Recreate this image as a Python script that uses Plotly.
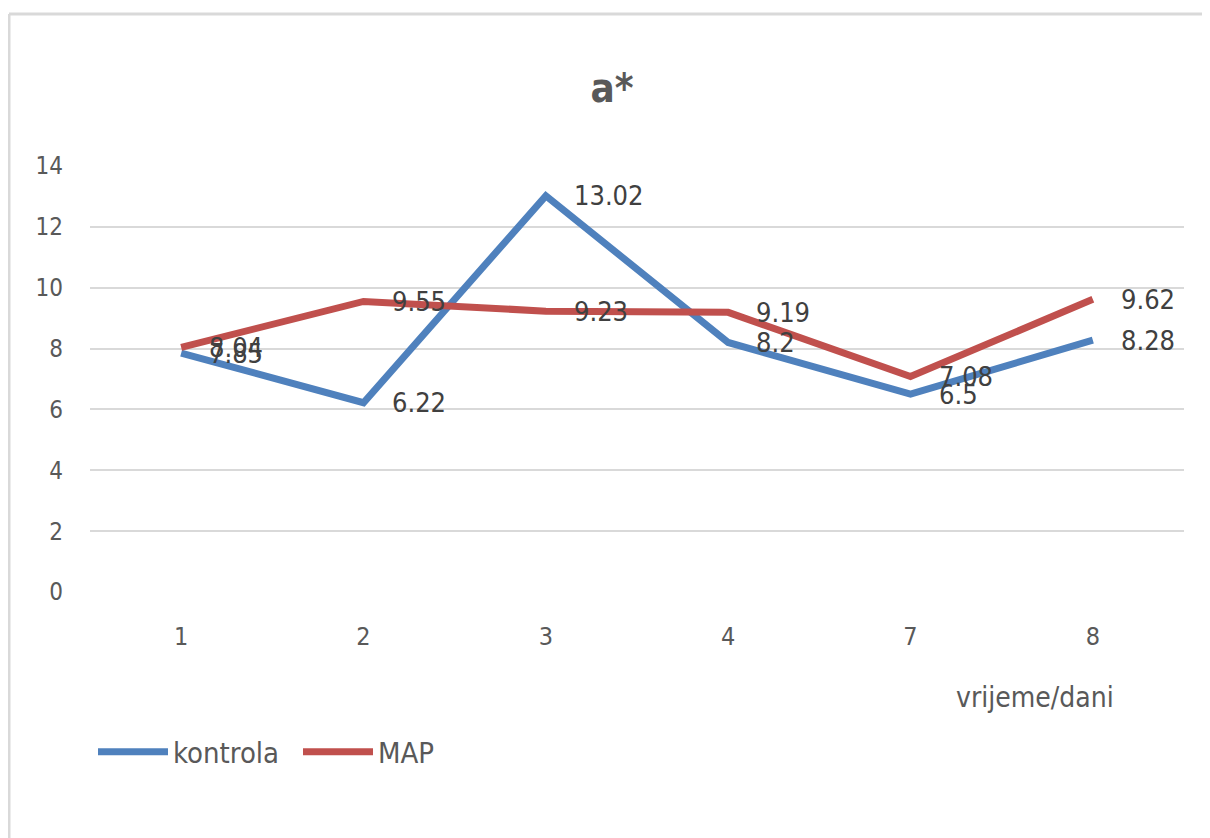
import plotly.graph_objects as go

categories = ["1", "2", "3", "4", "7", "8"]
kontrola = [7.85, 6.22, 13.02, 8.2, 6.5, 8.28]
map_vals = [8.04, 9.55, 9.23, 9.19, 7.08, 9.62]
y_ticks = [0, 2, 4, 6, 8, 10, 12, 14]

FONT = "Liberation Sans Narrow, DejaVu Sans Condensed, sans-serif"
BLUE = "#4f81bd"
RED = "#c0504d"
TXT = "#595959"

# page body has an 8px margin: figure coordinates = screen coordinates - 8
OFF = 8
W, H = 1210 - OFF, 838 - OFF
ml, mr, mt, mb = 90 - OFF, W - (1184 - OFF), 166 - OFF, H - (592 - OFF)
pw, ph = W - ml - mr, H - mt - mb


def px_x(sx):
    return (sx - OFF - ml) / pw


def px_y(sy):
    return (H - mb - (sy - OFF)) / ph


fig = go.Figure()
fig.add_trace(go.Scatter(x=categories, y=kontrola, mode="lines", name="kontrola",
                         line=dict(color=BLUE, width=7)))
fig.add_trace(go.Scatter(x=categories, y=map_vals, mode="lines", name="MAP",
                         line=dict(color=RED, width=7)))

annotations = []
for series in (kontrola, map_vals):
    for i, v in enumerate(series):
        annotations.append(dict(x=i, y=v, xref="x", yref="y", text=f"{v:g}",
                                showarrow=False, xanchor="left", yanchor="middle",
                                xshift=26, font=dict(family=FONT, size=27, color="#404040")))
annotations.append(dict(x=px_x(1035), y=px_y(697), xref="paper", yref="paper",
                        text="vrijeme/dani", showarrow=False, xanchor="center",
                        yanchor="middle", font=dict(family=FONT, size=28, color=TXT)))

fig.update_layout(
    width=W, height=H,
    margin=dict(l=ml, r=mr, t=mt, b=mb),
    paper_bgcolor="white", plot_bgcolor="white",
    annotations=annotations,
    title=dict(text="<b>a*</b>", x=(612 - OFF) / W, xanchor="center",
               y=1 - (88 - OFF) / H, yanchor="middle",
               font=dict(family=FONT, size=40, color=TXT)),
    xaxis=dict(type="category", range=[-0.5, 5.5], showgrid=False, zeroline=False,
               showline=False, tickfont=dict(family=FONT, size=25, color=TXT),
               ticks="outside", ticklen=0, ticklabelstandoff=22),
    yaxis=dict(range=[0, 14], tickvals=y_ticks, showgrid=True, gridcolor="#d9d9d9",
               gridwidth=1.5, zeroline=False, showline=False,
               tickfont=dict(family=FONT, size=24, color=TXT), ticklabelstandoff=26),
    legend=dict(orientation="h", x=px_x(93), y=px_y(752), xanchor="left",
                yanchor="middle", font=dict(family=FONT, size=29, color=TXT),
                entrywidth=120, entrywidthmode="pixels", itemwidth=70),
    showlegend=True,
    shapes=[
        dict(type="line", xref="paper", yref="paper", x0=px_x(OFF + 1), x1=px_x(1210),
             y0=px_y(14), y1=px_y(14), line=dict(color="#d9d9d9", width=3)),
        dict(type="line", xref="paper", yref="paper", x0=px_x(OFF + 1), x1=px_x(OFF + 1),
             y0=px_y(14), y1=px_y(838), line=dict(color="#d9d9d9", width=3)),
    ],
)

fig.write_html("out.html")
